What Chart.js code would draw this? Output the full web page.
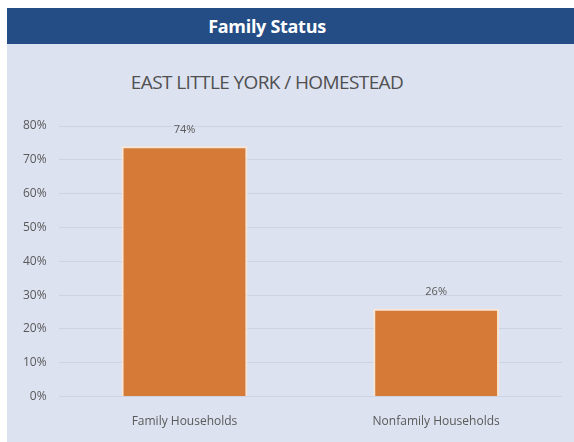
<!DOCTYPE html>
<html>
<head>
<meta charset="utf-8">
<script src="https://cdn.jsdelivr.net/npm/chart.js@4"></script>
<style>
  body { margin: 0; background: #ffffff; width: 574px; height: 442px; overflow: hidden; font-family: 'Open Sans', sans-serif; }
  #header {
    position: absolute; left: 7px; top: 8px; width: 520px; padding-right: 47px; height: 36px;
    background: #244d85; color: #ffffff; font-weight: bold; font-size: 18px;
    text-align: center; line-height: 36px; letter-spacing: -0.3px;
  }
  #panel { position: absolute; left: 7px; top: 44px; width: 567px; height: 398px; background: #dde2f0; }
  #subtitle {
    position: absolute; left: 0; top: 25px; width: 520px; text-align: center;
    font-family: 'Open Sans', sans-serif; font-size: 19px; color: #505050; letter-spacing: -0.6px;
  }
  #chartWrap { position: absolute; left: 0; top: 0; width: 567px; height: 398px; }
</style>
</head>
<body>
<div id="header">Family Status</div>
<div id="panel">
  <div id="subtitle">EAST LITTLE YORK / HOMESTEAD</div>
  <div id="chartWrap"><canvas id="familyStatus" width="567" height="398"></canvas></div>
</div>
<script>
// Données
const categories = ['Family Households', 'Nonfamily Households'];
const percentages = [74, 26];
const yTicks = [0, 10, 20, 30, 40, 50, 60, 70, 80];

const barColor = '#d57a37';
const barBorder = '#fbe6d3';
const textColor = '#595959';

// Étiquettes de valeur au-dessus des barres
const valueLabels = {
    id: 'valueLabels',
    afterDatasetsDraw(chart) {
        const ctx = chart.ctx;
        const meta = chart.getDatasetMeta(0);
        ctx.save();
        ctx.font = '11px "Open Sans", sans-serif';
        ctx.fillStyle = textColor;
        ctx.textAlign = 'center';
        ctx.textBaseline = 'bottom';
        meta.data.forEach((bar, i) => {
            ctx.fillText(`${percentages[i]}%`, bar.x, bar.y - 11);
        });
        ctx.restore();
    }
};

new Chart(document.getElementById('familyStatus').getContext('2d'), {
    type: 'bar',
    data: {
        labels: categories,
        datasets: [{
            data: percentages,
            backgroundColor: barColor,
            borderColor: barBorder,
            borderWidth: 2,
            barPercentage: 0.5,
            categoryPercentage: 1.0
        }]
    },
    options: {
        responsive: false,
        animation: false,
        layout: { padding: { top: 82, right: 12, bottom: 3, left: 4 } },
        scales: {
            x: {
                grid: { display: false },
                border: { display: false },
                ticks: { color: textColor, font: { size: 12, family: 'Open Sans' }, padding: 10 }
            },
            y: {
                min: 0,
                max: 80,
                afterBuildTicks: (axis) => { axis.ticks = yTicks.map(v => ({ value: v })); },
                grid: { color: '#cdd3e4', drawTicks: false },
                border: { display: false },
                ticks: { color: textColor, font: { size: 12, family: 'Open Sans' }, padding: 12, callback: (v) => `${v}%` }
            }
        },
        plugins: {
            legend: { display: false },
            tooltip: { enabled: false }
        }
    },
    plugins: [valueLabels]
});
</script>
</body>
</html>
